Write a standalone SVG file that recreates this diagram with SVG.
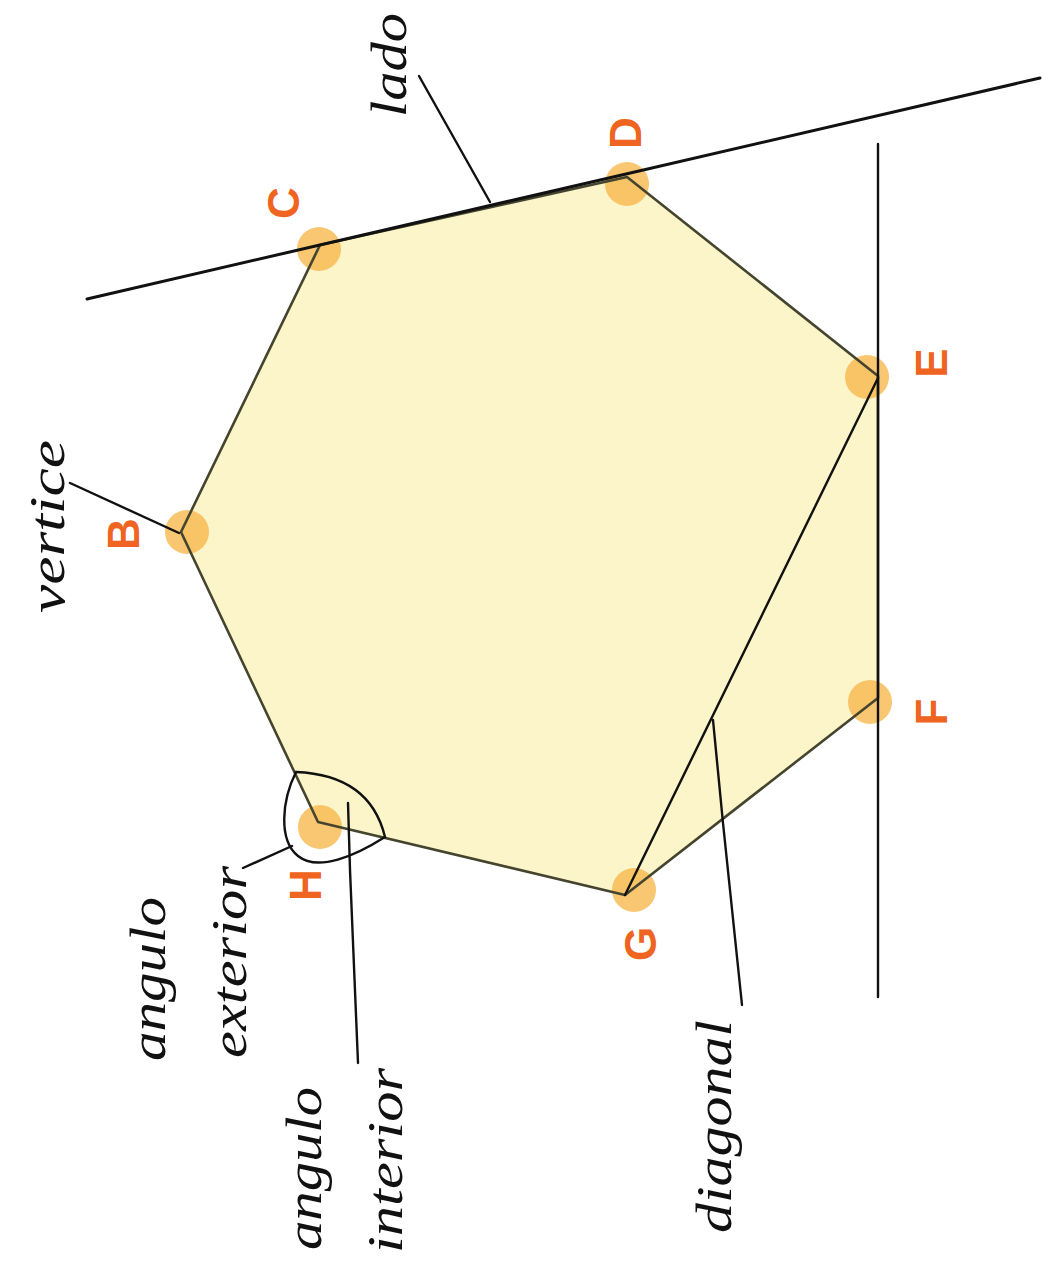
<svg xmlns="http://www.w3.org/2000/svg" width="1048" height="1269" viewBox="0 0 1048 1269">
<style>
.poly{fill:#fcf5c9;stroke:none}
.edge{fill:none;stroke:#45452f;stroke-width:2.6;stroke-linejoin:round}
.ln{fill:none;stroke:#111;stroke-width:2.4;stroke-linecap:round;stroke-linejoin:round}
.dot{fill:#f7b84e;opacity:0.8}
.vl{font-family:"Liberation Sans","DejaVu Sans",sans-serif;font-weight:bold;font-size:44px;fill:#ef6420;text-anchor:middle;dominant-baseline:central}
.lb{font-family:"Liberation Serif","DejaVu Serif",serif;font-style:italic;font-size:50px;fill:#111}
</style>
<rect width="1048" height="1269" fill="#ffffff"/>
<g id="heptagon">
<polygon class="poly" points="181,532 320,245 627,177 878,376 878,698 625,895 318,822"/>
</g>
<g id="vertex-dots">
<circle class="dot" cx="187" cy="532" r="22"/>
<circle class="dot" cx="319" cy="249" r="22"/>
<circle class="dot" cx="627" cy="184" r="22"/>
<circle class="dot" cx="867" cy="377" r="22"/>
<circle class="dot" cx="870" cy="702" r="22"/>
<circle class="dot" cx="634" cy="890" r="22"/>
<circle class="dot" cx="320" cy="827" r="22"/>
</g>
<g id="heptagon-outline">
<polygon class="edge" points="181,532 320,245 627,177 878,376 878,698 625,895 318,822"/>
</g>
<g id="connectors">
<line class="ln" x1="87" y1="299" x2="1040" y2="78" style="stroke-width:3"/>
<line class="ln" x1="878" y1="144" x2="878" y2="997"/>
<line class="ln" x1="878" y1="378" x2="625" y2="895"/>
<line class="ln" x1="419" y1="76" x2="490" y2="202"/>
<line class="ln" x1="70" y1="483" x2="179" y2="533"/>
<line class="ln" x1="243" y1="868" x2="292" y2="846"/>
<polyline class="ln" points="348,803 350,870 358,1063"/>
<polyline class="ln" points="713,720 723,823 742,1005"/>
<path class="ln" d="M296,772 Q370,775 385,837"/>
<path class="ln" d="M296,772 C282,800 278,840 298,856 C318,872 355,856 385,837"/>
</g>
<g id="B"><text class="vl" transform="translate(123,534) rotate(-90)">B</text></g>
<g id="C"><text class="vl" transform="translate(283,203) rotate(-90)">C</text></g>
<g id="D"><text class="vl" transform="translate(625,133) rotate(-90)">D</text></g>
<g id="E"><text class="vl" transform="translate(931,363) rotate(-90)">E</text></g>
<g id="F"><text class="vl" transform="translate(931,712) rotate(-90)">F</text></g>
<g id="G"><text class="vl" transform="translate(640,944) rotate(-90)">G</text></g>
<g id="H"><text class="vl" transform="translate(305,885) rotate(-90)">H</text></g>
<g id="label-lado"><text class="lb" transform="translate(406,117) rotate(-90)" textLength="104" lengthAdjust="spacingAndGlyphs">lado</text></g>
<g id="label-vertice"><text class="lb" transform="translate(64,613) rotate(-90)" textLength="173" lengthAdjust="spacingAndGlyphs">vertice</text></g>
<g id="label-angulo-exterior">
<text class="lb" transform="translate(165,1061) rotate(-90)" textLength="164" lengthAdjust="spacingAndGlyphs">angulo</text>
<text class="lb" transform="translate(246,1058) rotate(-90)" textLength="192" lengthAdjust="spacingAndGlyphs">exterior</text>
</g>
<g id="label-angulo-interior">
<text class="lb" transform="translate(321,1250) rotate(-90)" textLength="163" lengthAdjust="spacingAndGlyphs">angulo</text>
<text class="lb" transform="translate(402,1253) rotate(-90)" textLength="185" lengthAdjust="spacingAndGlyphs">interior</text>
</g>
<g id="label-diagonal"><text class="lb" transform="translate(731,1233) rotate(-90)" textLength="213" lengthAdjust="spacingAndGlyphs">diagonal</text></g>
</svg>
